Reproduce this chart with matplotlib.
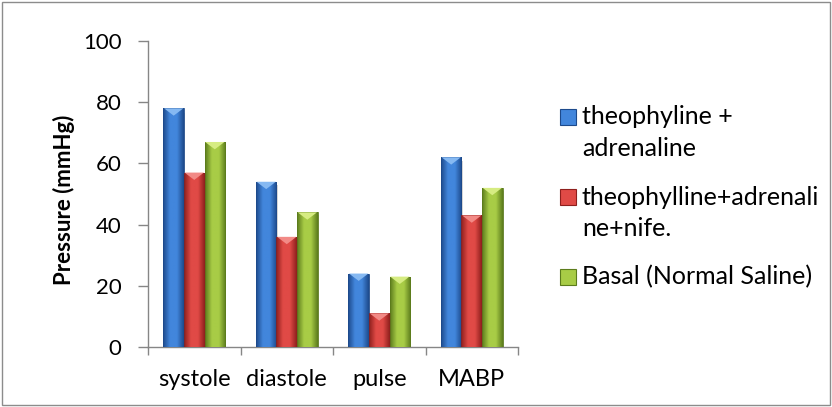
"""
Blood pressure per treatment group — bar chart with bevelled bars.
"""
import matplotlib
matplotlib.use("Agg")
import matplotlib.pyplot as plt
import matplotlib.colors as mcolors
from matplotlib.patches import Polygon, Rectangle
import numpy as np

plt.rcParams["font.family"] = ["Lato", "DejaVu Sans"]

categories = ["systole", "diastole", "pulse", "MABP"]
series_names = ["theophyline +\nadrenaline",
                "theophylline+adrenali\nne+nife.",
                "Basal (Normal Saline)"]
theo_adr     = [78, 54, 24, 62]
theo_adr_nif = [57, 36, 11, 43]
basal        = [67, 44, 23, 52]
series_values = [theo_adr, theo_adr_nif, basal]

# (edge, centre, highlight)
COLORS = {
    "blue":  ("#1d4a8c", "#4286dc", "#86b9f2"),
    "red":   ("#8e1f1d", "#e04a46", "#f28a86"),
    "green": ("#5c7c1c", "#a8cc46", "#d6ec82"),
}
color_keys = ["blue", "red", "green"]

bar_w = 1 / 4.5   # gap width 150%
W, H = 832, 407


def bevel_bar(ax, x0, w, h, dark, mid, hi):
    """Bar with a horizontal gradient and a light triangle on the top."""
    cmap = mcolors.LinearSegmentedColormap.from_list("b", [dark, mid, mid, dark])
    grad = np.linspace(0, 1, 64).reshape(1, -1)
    im = ax.imshow(grad, extent=(x0, x0 + w, 0, h), aspect="auto",
                   cmap=cmap, origin="lower", zorder=3, interpolation="bilinear")
    im.set_clip_path(Rectangle((x0, 0), w, h, transform=ax.transData))
    ax.add_patch(Rectangle((x0, 0), w, h, fill=False, lw=0.6,
                           edgecolor=dark, zorder=4))
    tri_h = min(2.4, h * 0.5)
    ax.add_patch(Polygon([(x0 + 0.03 * w, h), (x0 + 0.97 * w, h),
                          (x0 + w / 2, h - tri_h)],
                         closed=True, facecolor=hi, edgecolor="none", zorder=5))
    ax.add_patch(Rectangle((x0 + w, 0), 0.015, h * 0.98, facecolor="#888888",
                           alpha=0.35, edgecolor="none", zorder=2))


fig = plt.figure(figsize=(W / 100, H / 100), dpi=100)
fig.patches.append(Rectangle((0.002, 0.005), 0.995, 0.99, transform=fig.transFigure,
                             fill=False, edgecolor="#8c8c8c", lw=1.0))
ax = fig.add_axes([148 / W, 1 - 347 / H, 370 / W, 306 / H])

x = np.arange(len(categories))
for i, (vals, key) in enumerate(zip(series_values, color_keys)):
    dark, mid, hi = COLORS[key]
    for xi, v in zip(x, vals):
        bevel_bar(ax, xi - 1.5 * bar_w + i * bar_w, bar_w, v, dark, mid, hi)

ax.set_xlim(-0.5, len(categories) - 0.5)
ax.set_ylim(0, 100)
ax.set_yticks(np.arange(0, 101, 20))
ax.set_xticks(x)
ax.set_xticklabels(categories)
ax.set_xticks(np.arange(-0.5, len(categories)), minor=True)
ax.tick_params(axis="x", which="major", length=0, labelsize=17, pad=16)
ax.tick_params(axis="x", which="minor", length=6, color="#868686", width=1)
ax.tick_params(axis="y", length=7, color="#868686", width=1, labelsize=16, pad=12)
for side in ("top", "right"):
    ax.spines[side].set_visible(False)
for side in ("left", "bottom"):
    ax.spines[side].set_color("#868686")
    ax.spines[side].set_linewidth(1)
ax.set_ylabel("Pressure (mmHg)", fontsize=16, fontweight="bold")
ax.yaxis.set_label_coords(-0.197, 0.48)

# legend: marker beside the first line of each entry
line_gap = 31
y = 117
for name, key in zip(series_names, color_keys):
    dark, mid, hi = COLORS[key]
    fig.patches.append(Rectangle((560 / W, 1 - (y + 8) / H), 16 / W, 16 / H,
                                 transform=fig.transFigure, facecolor=mid,
                                 edgecolor=dark, lw=0.8))
    for k, line in enumerate(name.split("\n")):
        fig.text(582 / W, 1 - (y + k * line_gap) / H, line, fontsize=18,
                 va="center", ha="left")
    y += len(name.split("\n")) * line_gap + 18

fig.savefig("out.png", dpi=100)
